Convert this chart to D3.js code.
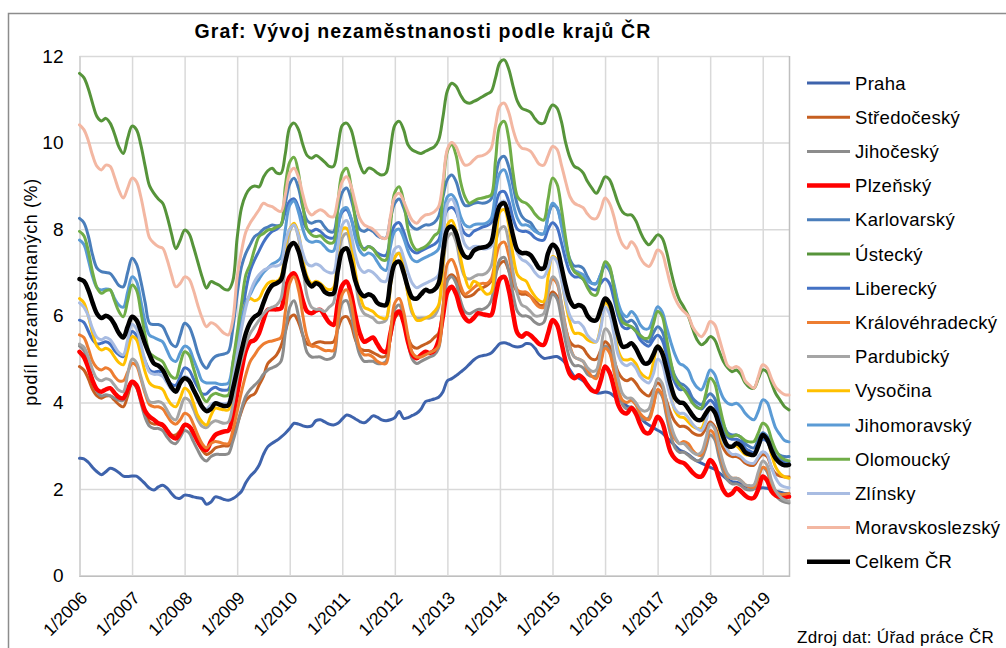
<!DOCTYPE html>
<html>
<head>
<meta charset="utf-8">
<script src="https://cdn.jsdelivr.net/npm/d3@7"></script>
<style>
  body { margin: 0; background: #fff; }
  svg text { font-family: "Liberation Sans", Arial, sans-serif; fill: #000; }
</style>
</head>
<body>
<div id="chart"></div>
<script>
// měsíce 1/2006 ... 7/2019 (kategorie osy x)
const months = [];
for (let r = 2006; r <= 2019; r++) {
  for (let m = 1; m <= 12; m++) {
    if (r === 2019 && m > 7) break;
    months.push(m + "/" + r);
  }
}
const tickLabels = ["1/2006","1/2007","1/2008","1/2009","1/2010","1/2011","1/2012",
                    "1/2013","1/2014","1/2015","1/2016","1/2017","1/2018","1/2019"];
const yTicks = [0, 2, 4, 6, 8, 10, 12];

const seriesNames = ["Praha","Středočeský","Jihočeský","Plzeňský","Karlovarský","Ústecký",
  "Liberecký","Královéhradecký","Pardubický","Vysočina","Jihomoravský","Olomoucký",
  "Zlínsky","Moravskoslezský","Celkem ČR"];

// podíl nezaměstnaných (%), měsíčně
const praha = [
  2.71,2.7,2.62,2.5,2.4,2.33,2.4,2.48,2.45,2.38,2.3,2.29,
  2.3,2.3,2.22,2.12,2.02,1.98,2.05,2.09,2.02,1.9,1.8,1.79,
  1.86,1.85,1.82,1.8,1.78,1.65,1.7,1.82,1.8,1.76,1.74,1.78,
  1.85,1.95,2.15,2.3,2.4,2.55,2.8,2.98,3.06,3.12,3.2,3.29,
  3.4,3.52,3.5,3.46,3.44,3.46,3.58,3.6,3.55,3.5,3.48,3.52,
  3.62,3.71,3.68,3.62,3.56,3.53,3.6,3.69,3.66,3.6,3.58,3.6,
  3.65,3.79,3.63,3.65,3.7,3.75,3.85,4.02,4.05,4.08,4.12,4.25,
  4.5,4.55,4.62,4.7,4.78,4.88,4.98,5.05,5.08,5.1,5.14,5.25,
  5.36,5.38,5.35,5.3,5.28,5.3,5.36,5.35,5.25,5.1,5.02,5.03,
  5.05,5.06,5.0,4.9,4.75,4.6,4.56,4.5,4.4,4.3,4.22,4.22,
  4.24,4.22,4.15,4.08,4.0,3.92,3.87,3.8,3.68,3.55,3.48,3.42,
  3.36,3.3,3.2,3.1,3.0,2.9,2.86,2.8,2.72,2.65,2.6,2.55,
  2.5,2.46,2.38,2.3,2.22,2.17,2.16,2.12,2.07,2.04,2.02,2.02,
  2.03,2.02,1.98,1.95,1.93,1.9,1.9];
const stredocesky = [
  4.83,4.75,4.55,4.3,4.15,4.1,4.15,4.15,4.05,3.95,3.9,4.15,
  4.45,4.35,4.1,3.75,3.55,3.5,3.5,3.45,3.35,3.25,3.25,3.35,
  3.5,3.45,3.3,3.1,2.9,2.8,2.85,2.95,2.98,3.0,3.0,3.2,
  3.5,3.8,4.05,4.15,4.2,4.4,4.6,4.9,5.0,5.1,5.3,5.65,
  5.95,6.02,5.85,5.55,5.35,5.33,5.38,5.4,5.38,5.38,5.4,5.7,
  5.95,5.98,5.8,5.45,5.25,5.2,5.2,5.15,5.1,5.05,5.08,5.5,
  5.95,6.05,5.85,5.5,5.3,5.25,5.3,5.35,5.4,5.5,5.6,6.2,
  6.85,6.95,6.85,6.6,6.45,6.45,6.5,6.6,6.65,6.7,6.8,7.0,
  7.2,7.26,7.05,6.75,6.55,6.5,6.5,6.45,6.35,6.25,6.25,6.4,
  6.55,6.45,6.1,5.7,5.4,5.3,5.3,5.25,5.1,5.0,5.0,5.2,
  5.4,5.3,5.0,4.7,4.55,4.5,4.55,4.45,4.3,4.2,4.15,4.3,
  4.45,4.35,4.05,3.75,3.55,3.45,3.45,3.4,3.3,3.25,3.25,3.4,
  3.55,3.45,3.2,2.95,2.8,2.75,2.75,2.7,2.6,2.55,2.55,2.7,
  2.8,2.75,2.5,2.35,2.3,2.28,2.28];
const jihocesky = [
  5.3,5.2,4.9,4.5,4.25,4.15,4.18,4.15,4.1,4.05,4.05,4.25,
  4.45,4.35,4.0,3.65,3.45,3.4,3.4,3.35,3.2,3.08,3.05,3.2,
  3.35,3.3,3.1,2.9,2.72,2.65,2.75,2.8,2.8,2.8,2.82,3.1,
  3.45,3.85,4.15,4.3,4.4,4.5,4.65,4.75,4.8,4.85,4.95,5.6,
  6.2,6.35,6.0,5.55,5.15,5.05,5.05,5.05,5.0,5.0,5.05,5.75,
  6.3,6.35,6.05,5.5,5.1,4.95,4.95,4.95,4.9,4.9,4.95,5.55,
  6.15,6.25,5.95,5.4,5.0,4.9,4.95,5.0,5.05,5.1,5.25,6.05,
  6.8,6.9,6.75,6.35,6.1,6.05,6.1,6.15,6.15,6.2,6.35,6.9,
  7.3,7.35,7.05,6.5,6.1,6.0,6.0,5.95,5.85,5.8,5.85,6.2,
  6.5,6.4,5.95,5.4,5.0,4.85,4.85,4.8,4.65,4.6,4.62,4.95,
  5.3,5.2,4.75,4.25,3.95,3.85,3.9,3.8,3.65,3.6,3.65,3.95,
  4.25,4.15,3.7,3.25,2.95,2.85,2.85,2.78,2.7,2.65,2.7,2.95,
  3.25,3.15,2.75,2.4,2.2,2.12,2.12,2.08,2.0,1.98,2.0,2.25,
  2.5,2.4,2.05,1.85,1.75,1.7,1.68];
const plzensky = [
  5.17,5.05,4.8,4.5,4.3,4.25,4.3,4.33,4.22,4.12,4.1,4.3,
  4.48,4.4,4.1,3.8,3.67,3.6,3.52,3.48,3.35,3.22,3.17,3.3,
  3.48,3.45,3.3,3.1,2.95,2.9,3.1,3.25,3.3,3.33,3.35,3.67,
  4.2,4.75,5.2,5.4,5.44,5.6,5.9,6.14,6.15,6.15,6.17,6.6,
  6.9,6.98,6.75,6.35,6.1,6.06,6.12,6.14,6.0,5.85,5.79,6.3,
  6.7,6.79,6.5,6.0,5.6,5.4,5.45,5.5,5.35,5.2,5.17,5.6,
  6.0,6.1,5.85,5.4,5.1,5.02,5.1,5.17,5.14,5.2,5.44,6.0,
  6.55,6.67,6.5,6.15,5.95,5.87,5.95,6.06,6.04,6.02,6.02,6.45,
  6.85,6.9,6.6,6.05,5.6,5.52,5.6,5.55,5.45,5.35,5.33,5.6,
  5.9,5.8,5.4,4.95,4.65,4.56,4.63,4.55,4.4,4.28,4.25,4.5,
  4.83,4.7,4.35,3.95,3.78,3.75,3.87,3.75,3.5,3.32,3.29,3.45,
  3.67,3.55,3.2,2.85,2.7,2.63,2.6,2.5,2.38,2.3,2.29,2.45,
  2.67,2.55,2.25,1.98,1.86,1.9,2.02,1.95,1.85,1.79,1.8,2.0,
  2.29,2.2,1.95,1.85,1.82,1.82,1.83];
const karlovarsky = [
  8.25,8.15,7.85,7.4,7.1,7.02,7.0,6.98,6.85,6.7,6.67,7.0,
  7.33,7.2,6.8,6.3,5.83,5.8,5.8,5.75,5.55,5.35,5.29,5.55,
  5.83,5.75,5.5,5.15,4.9,4.79,4.95,5.06,5.1,5.12,5.17,5.7,
  6.5,7.14,7.45,7.65,7.83,7.9,8.0,8.05,8.1,8.08,8.1,8.6,
  9.05,9.18,8.95,8.5,8.2,8.14,8.18,8.18,8.05,7.95,7.94,8.45,
  8.85,8.95,8.7,8.3,8.0,7.95,8.0,7.95,7.85,7.8,7.8,8.25,
  8.6,8.7,8.5,8.2,8.05,8.0,8.05,8.1,8.1,8.15,8.3,8.75,
  9.15,9.25,9.1,8.75,8.55,8.55,8.6,8.62,8.6,8.62,8.7,9.2,
  9.62,9.68,9.45,9.0,8.55,8.3,8.2,8.15,8.0,7.9,7.9,8.3,
  8.55,8.5,8.15,7.7,7.3,7.15,7.15,7.1,6.9,6.75,6.75,6.95,
  7.15,7.05,6.7,6.25,5.95,5.85,5.9,5.8,5.55,5.45,5.4,5.6,
  5.75,5.65,5.3,4.9,4.6,4.45,4.4,4.3,4.1,4.0,3.95,4.1,
  4.2,4.1,3.8,3.5,3.3,3.25,3.25,3.2,3.05,2.98,2.95,3.15,
  3.3,3.22,3.0,2.85,2.78,2.75,2.75];
const ustecky = [
  11.6,11.5,11.25,10.9,10.6,10.5,10.56,10.45,10.2,9.9,9.75,10.1,
  10.38,10.3,9.95,9.45,9.0,8.83,8.7,8.6,8.3,7.9,7.55,7.75,
  7.98,7.9,7.6,7.25,6.9,6.64,6.79,6.75,6.7,6.62,6.6,6.8,
  7.8,8.5,8.8,8.95,9.0,8.98,9.2,9.35,9.41,9.3,9.29,9.75,
  10.35,10.45,10.3,9.95,9.7,9.64,9.7,9.64,9.55,9.45,9.45,9.9,
  10.4,10.45,10.3,9.9,9.5,9.3,9.41,9.38,9.3,9.25,9.3,9.85,
  10.4,10.49,10.3,9.95,9.83,9.78,9.75,9.8,9.85,9.9,10.06,10.6,
  11.2,11.37,11.3,11.1,10.95,10.91,10.95,11.0,11.06,11.12,11.18,11.5,
  11.85,11.91,11.7,11.3,10.95,10.79,10.75,10.7,10.55,10.45,10.45,10.7,
  10.87,10.8,10.5,10.0,9.65,9.45,9.4,9.3,9.1,8.95,8.83,9.0,
  9.21,9.15,8.9,8.6,8.4,8.33,8.33,8.2,7.95,7.75,7.64,7.75,
  7.87,7.8,7.5,7.05,6.65,6.37,6.2,6.0,5.7,5.45,5.33,5.4,
  5.52,5.45,5.2,4.95,4.8,4.71,4.75,4.65,4.45,4.35,4.33,4.55,
  4.75,4.7,4.45,4.2,4.05,3.9,3.83];
const liberecky = [
  5.9,5.85,5.65,5.45,5.35,5.37,5.4,5.35,5.2,5.1,5.06,5.35,
  5.64,5.55,5.25,4.95,4.75,4.7,4.72,4.7,4.55,4.42,4.4,4.6,
  4.8,4.75,4.55,4.35,4.2,4.2,4.3,4.35,4.3,4.28,4.3,4.75,
  5.3,5.9,6.6,7.05,7.3,7.5,7.7,7.85,7.95,8.0,8.1,8.4,
  8.65,8.7,8.5,8.2,8.0,7.95,8.0,7.95,7.85,7.8,7.8,8.1,
  8.4,8.45,8.25,7.9,7.65,7.55,7.6,7.55,7.45,7.4,7.4,7.8,
  8.1,8.15,7.95,7.65,7.5,7.45,7.5,7.55,7.6,7.65,7.75,8.15,
  8.45,8.5,8.4,8.1,7.9,7.85,7.95,8.0,8.05,8.08,8.15,8.55,
  8.85,8.87,8.65,8.25,8.0,7.95,7.95,7.9,7.8,7.75,7.75,8.0,
  8.15,8.05,7.7,7.3,7.0,6.9,6.9,6.85,6.7,6.62,6.6,6.75,
  6.85,6.75,6.4,6.0,5.75,5.7,5.75,5.65,5.45,5.35,5.3,5.45,
  5.55,5.45,5.1,4.7,4.45,4.3,4.3,4.2,4.0,3.9,3.85,3.95,
  4.05,3.95,3.65,3.4,3.2,3.15,3.15,3.1,2.95,2.88,2.85,3.0,
  3.15,3.1,2.9,2.75,2.68,2.63,2.62];
const kralovehradecky = [
  5.56,5.5,5.25,4.95,4.8,4.75,4.8,4.75,4.6,4.5,4.5,4.7,
  4.9,4.85,4.55,4.2,3.95,3.9,3.9,3.85,3.7,3.55,3.5,3.6,
  3.75,3.7,3.5,3.25,3.05,2.95,3.05,3.1,3.08,3.05,3.05,3.35,
  3.8,4.25,4.65,4.95,5.1,5.25,5.35,5.4,5.42,5.45,5.5,6.1,
  6.75,6.9,6.6,6.0,5.5,5.3,5.3,5.25,5.2,5.2,5.2,5.9,
  6.5,6.6,6.3,5.7,5.25,5.1,5.1,5.05,4.95,4.9,4.9,5.6,
  6.3,6.4,6.1,5.55,5.15,5.05,5.05,5.1,5.15,5.2,5.3,6.2,
  7.2,7.3,7.1,6.7,6.5,6.56,6.65,6.72,6.75,6.75,6.85,7.3,
  7.65,7.7,7.4,6.9,6.6,6.55,6.55,6.45,6.3,6.2,6.2,6.55,
  6.85,6.75,6.3,5.75,5.3,5.05,5.0,4.95,4.75,4.6,4.55,4.9,
  5.25,5.15,4.75,4.3,4.05,4.0,4.05,3.95,3.75,3.65,3.6,3.9,
  4.3,4.2,3.8,3.4,3.15,3.05,3.1,3.05,2.9,2.8,2.78,3.05,
  3.35,3.25,2.9,2.55,2.3,2.25,2.25,2.2,2.1,2.05,2.05,2.3,
  2.5,2.45,2.15,1.95,1.88,1.88,1.9];
const pardubicky = [
  5.35,5.28,5.05,4.75,4.55,4.5,4.55,4.52,4.4,4.28,4.25,4.65,
  5.0,4.92,4.6,4.25,4.02,4.0,4.02,3.98,3.82,3.65,3.6,3.85,
  4.1,4.05,3.85,3.6,3.45,3.42,3.52,3.58,3.55,3.52,3.55,3.95,
  4.55,5.0,5.35,5.6,5.75,5.9,6.05,6.15,6.2,6.25,6.4,7.2,
  7.95,8.1,7.8,7.1,6.45,6.2,6.15,6.15,6.1,6.2,6.3,7.2,
  7.8,7.9,7.55,6.8,6.25,6.05,6.0,5.95,5.85,5.85,5.9,6.7,
  7.35,7.45,7.15,6.5,6.05,5.95,5.95,5.95,5.95,6.0,6.2,7.1,
  7.8,7.9,7.7,7.2,6.9,6.85,6.9,6.95,6.95,7.0,7.15,7.7,
  8.0,8.06,7.7,7.0,6.5,6.25,6.2,6.1,6.0,6.0,6.05,6.55,
  6.9,6.8,6.3,5.7,5.25,5.05,5.0,4.95,4.8,4.72,4.75,5.2,
  5.7,5.6,5.1,4.55,4.2,4.1,4.1,4.0,3.85,3.8,3.85,4.2,
  4.55,4.45,4.0,3.5,3.2,3.05,3.05,2.95,2.85,2.8,2.85,3.15,
  3.5,3.4,3.0,2.6,2.35,2.25,2.25,2.2,2.1,2.08,2.1,2.4,
  2.65,2.55,2.2,1.95,1.82,1.75,1.72];
const vysocina = [
  6.4,6.3,6.0,5.6,5.3,5.21,5.25,5.2,5.05,4.92,4.87,5.2,
  5.52,5.45,5.1,4.7,4.45,4.37,4.35,4.3,4.1,3.95,3.9,4.1,
  4.33,4.25,4.0,3.7,3.55,3.48,3.7,3.87,3.85,3.83,3.83,4.5,
  5.3,5.9,6.3,6.4,6.35,6.4,6.6,6.75,6.8,6.8,6.9,7.6,
  8.0,8.14,7.9,7.3,6.9,6.75,6.8,6.75,6.65,6.6,6.65,7.5,
  8.0,8.02,7.7,7.0,6.5,6.2,6.15,6.1,6.0,5.95,5.94,6.7,
  7.35,7.44,7.1,6.5,6.1,5.9,5.9,5.95,6.0,6.1,6.25,7.2,
  8.1,8.2,7.95,7.35,6.9,6.64,6.8,6.75,6.6,6.5,6.55,7.5,
  8.4,8.45,8.1,7.4,6.95,6.85,6.8,6.6,6.45,6.35,6.33,6.9,
  7.37,7.3,6.9,6.3,5.85,5.6,5.6,5.55,5.45,5.4,5.4,5.75,
  6.3,6.2,5.75,5.2,5.0,4.98,5.0,4.9,4.7,4.6,4.56,4.9,
  5.3,5.2,4.7,4.15,3.8,3.67,3.65,3.55,3.45,3.4,3.4,3.65,
  3.87,3.8,3.4,3.05,2.95,2.98,3.0,2.9,2.8,2.78,2.79,3.0,
  3.21,3.15,2.8,2.5,2.35,2.28,2.25];
const jihomoravsky = [
  7.75,7.65,7.3,6.9,6.65,6.6,6.62,6.6,6.4,6.25,6.2,6.55,
  6.9,6.8,6.35,5.85,5.55,5.5,5.45,5.4,5.2,5.0,4.95,5.15,
  5.3,5.25,5.0,4.75,4.5,4.45,4.45,4.45,4.42,4.42,4.45,4.9,
  5.45,5.9,6.3,6.5,6.7,6.85,7.0,7.1,7.2,7.25,7.35,8.0,
  8.55,8.65,8.4,8.0,7.75,7.7,7.72,7.7,7.6,7.5,7.5,8.0,
  8.45,8.5,8.25,7.8,7.5,7.4,7.45,7.4,7.25,7.1,7.05,7.6,
  7.95,8.0,7.8,7.5,7.3,7.25,7.3,7.35,7.4,7.45,7.55,8.2,
  8.75,8.8,8.65,8.3,8.1,8.05,8.1,8.12,8.12,8.15,8.25,8.85,
  9.3,9.37,9.1,8.6,8.25,8.1,8.1,8.05,7.95,7.9,7.9,8.3,
  8.6,8.5,8.1,7.6,7.2,7.05,7.0,6.95,6.8,6.75,6.75,6.95,
  7.21,7.1,6.75,6.3,6.05,5.98,6.1,6.0,5.8,5.7,5.71,5.95,
  6.21,6.1,5.75,5.4,5.1,4.9,4.85,4.75,4.5,4.35,4.29,4.5,
  4.75,4.65,4.35,4.1,3.98,3.95,3.98,3.9,3.75,3.65,3.6,3.8,
  4.06,4.0,3.7,3.4,3.25,3.12,3.09];
const olomoucky = [
  7.95,7.85,7.5,7.0,6.65,6.52,6.58,6.6,6.35,6.1,5.98,6.35,
  6.71,6.6,6.1,5.55,5.15,5.06,5.0,4.94,4.75,4.6,4.56,4.9,
  5.17,5.1,4.8,4.45,4.15,4.02,4.15,4.21,4.18,4.15,4.17,4.9,
  5.6,6.29,6.95,7.2,7.55,7.83,7.9,7.98,8.0,8.05,8.1,9.0,
  9.55,9.66,9.3,8.55,8.0,7.87,7.83,7.85,7.75,7.68,7.7,8.6,
  9.3,9.41,9.0,8.2,7.7,7.52,7.6,7.55,7.4,7.3,7.29,8.1,
  8.85,8.98,8.65,8.0,7.65,7.52,7.55,7.6,7.7,7.85,7.94,8.9,
  9.8,9.95,9.7,9.1,8.75,8.6,8.65,8.7,8.72,8.75,8.79,9.6,
  10.4,10.49,10.1,9.3,8.75,8.64,8.6,8.5,8.35,8.25,8.21,8.7,
  9.18,9.05,8.5,7.8,7.25,7.02,6.95,6.85,6.65,6.5,6.48,6.85,
  7.25,7.15,6.65,6.1,5.85,5.79,5.75,5.65,5.55,5.48,5.5,5.8,
  6.1,6.0,5.5,4.95,4.55,4.4,4.3,4.15,3.98,3.88,3.87,4.2,
  4.56,4.45,4.0,3.55,3.25,3.21,3.25,3.2,3.12,3.09,3.1,3.3,
  3.52,3.45,3.15,2.9,2.75,2.68,2.65];
const zlinsky = [
  6.3,6.2,6.0,5.7,5.5,5.45,5.5,5.45,5.3,5.15,5.1,5.45,
  5.8,5.7,5.35,4.95,4.7,4.65,4.65,4.6,4.45,4.3,4.25,4.45,
  4.6,4.55,4.3,4.05,3.9,3.85,3.95,4.0,3.98,3.97,4.0,4.5,
  5.1,5.7,6.2,6.55,6.8,6.95,7.05,7.1,7.15,7.15,7.2,7.7,
  8.0,8.1,7.85,7.45,7.2,7.15,7.2,7.15,7.05,7.0,7.0,7.6,
  8.1,8.2,7.9,7.4,7.1,7.0,7.05,7.0,6.9,6.8,6.8,7.2,
  7.55,7.6,7.35,7.0,6.75,6.65,6.7,6.75,6.8,6.85,6.95,7.7,
  8.6,8.7,8.5,8.0,7.65,7.55,7.6,7.6,7.55,7.55,7.6,8.1,
  8.6,8.65,8.35,7.8,7.45,7.3,7.25,7.15,7.0,6.9,6.9,7.1,
  7.35,7.25,6.85,6.35,6.0,5.85,5.85,5.75,5.55,5.45,5.4,5.7,
  6.2,6.05,5.6,5.1,4.9,4.85,4.9,4.8,4.6,4.5,4.45,4.65,
  5.0,4.9,4.5,4.1,3.85,3.75,3.75,3.65,3.5,3.4,3.35,3.55,
  3.9,3.8,3.45,3.1,2.9,2.8,2.8,2.75,2.65,2.6,2.6,2.75,
  2.86,2.8,2.5,2.25,2.1,2.05,2.03];
const moravskoslezsky = [
  10.41,10.3,10.05,9.7,9.45,9.37,9.48,9.45,9.2,8.9,8.72,8.95,
  9.18,9.1,8.75,8.25,7.8,7.68,7.6,7.56,7.3,6.95,6.67,6.75,
  6.9,6.85,6.6,6.25,5.95,5.75,5.84,5.8,5.7,5.6,5.56,5.9,
  6.9,7.5,7.94,8.15,8.3,8.45,8.6,8.55,8.52,8.45,8.41,8.8,
  9.3,9.41,9.2,8.8,8.45,8.33,8.4,8.45,8.4,8.3,8.29,8.7,
  9.1,9.21,9.0,8.6,8.25,8.1,8.05,8.0,7.9,7.8,7.79,8.3,
  8.75,8.83,8.65,8.4,8.2,8.14,8.25,8.33,8.35,8.4,8.52,9.1,
  9.85,10.0,9.9,9.65,9.48,9.5,9.6,9.68,9.7,9.75,9.87,10.4,
  10.85,10.91,10.7,10.3,10.0,9.87,9.85,9.8,9.65,9.5,9.48,9.7,
  9.91,9.85,9.5,9.1,8.75,8.6,8.55,8.5,8.35,8.25,8.25,8.45,
  8.72,8.6,8.3,7.9,7.65,7.56,7.71,7.6,7.35,7.2,7.14,7.3,
  7.52,7.45,7.1,6.7,6.4,6.21,6.1,6.0,5.75,5.6,5.52,5.65,
  5.87,5.8,5.5,5.15,4.85,4.79,4.83,4.75,4.5,4.4,4.33,4.6,
  4.87,4.8,4.55,4.35,4.25,4.18,4.17];
const celkem = [
  6.85,6.8,6.6,6.3,6.05,5.95,6.0,5.95,5.8,5.6,5.5,5.75,
  5.98,5.9,5.65,5.35,5.1,4.9,4.85,4.75,4.55,4.35,4.25,4.45,
  4.56,4.5,4.3,4.1,3.9,3.8,3.85,3.98,3.95,3.92,3.94,4.3,
  4.75,5.2,5.6,5.85,5.98,6.05,6.3,6.55,6.7,6.75,6.83,7.25,
  7.6,7.68,7.5,7.1,6.8,6.68,6.75,6.7,6.55,6.5,6.52,7.05,
  7.5,7.56,7.25,6.8,6.55,6.45,6.5,6.45,6.3,6.25,6.25,6.8,
  7.2,7.25,7.0,6.65,6.42,6.4,6.5,6.6,6.56,6.6,6.75,7.45,
  8.0,8.06,7.9,7.55,7.37,7.35,7.5,7.56,7.58,7.6,7.7,8.2,
  8.55,8.6,8.3,7.85,7.52,7.45,7.45,7.4,7.25,7.1,7.1,7.45,
  7.64,7.55,7.15,6.7,6.35,6.21,6.25,6.2,6.0,5.9,5.9,6.15,
  6.4,6.3,5.95,5.55,5.29,5.3,5.37,5.25,5.05,4.9,4.92,5.1,
  5.29,5.15,4.8,4.4,4.1,4.0,3.98,3.85,3.7,3.6,3.6,3.75,
  3.87,3.78,3.5,3.2,3.0,2.98,3.06,3.0,2.85,2.8,2.79,3.0,
  3.25,3.15,2.9,2.7,2.6,2.55,2.56];

const seriesValues = [praha, stredocesky, jihocesky, plzensky, karlovarsky, ustecky,
  liberecky, kralovehradecky, pardubicky, vysocina, jihomoravsky, olomoucky,
  zlinsky, moravskoslezsky, celkem];

// vzhled řad
const colors = ["#3E63AC","#C65F21","#8C8C8C","#FF0000","#4A7EBB","#56943A",
  "#4472C4","#ED7D31","#A5A5A5","#FFC000","#5B9BD5","#70AD47",
  "#A8BCE2","#F3B7A2","#000000"];
const widths = [3,3,3,4.5,3,3,3,3,3,3,3,3,3,3,4.5];

seriesValues.forEach(function(v, i) {
  if (v.length !== months.length) {
    throw new Error(seriesNames[i] + ": " + v.length + " != " + months.length);
  }
});

const width = 1006, height = 648;
const margin = {left: 79.5, top: 56, right: 217, bottom: 72.3};

const svg = d3.select("#chart").append("svg")
  .attr("width", width)
  .attr("height", height);

// rámeček grafu
svg.append("rect")
  .attr("x", 8.5).attr("y", 13.5)
  .attr("width", 1010).attr("height", 650)
  .attr("fill", "#fff")
  .attr("stroke", "#8C8C8C")
  .attr("stroke-width", 1.5);

const xScale = d3.scaleLinear()
  .domain([0, months.length - 1])
  .range([margin.left, width - margin.right]);
const yScale = d3.scaleLinear()
  .domain([0, 12])
  .range([height - margin.bottom, margin.top]);

const plotW = xScale.range()[1] - xScale.range()[0];
const plotH = yScale.range()[0] - yScale.range()[1];

// osa y + vodorovná mřížka
const yAxis = svg.append("g")
  .attr("transform", `translate(${margin.left},0)`)
  .call(d3.axisLeft(yScale).tickValues(yTicks).tickSize(-plotW).tickPadding(16));
yAxis.select(".domain").remove();
yAxis.selectAll("line").attr("stroke", "#D9D9D9").attr("stroke-width", 1.5);
yAxis.selectAll("text").style("font-size", "19px");

// osa x + svislá mřížka
const xAxis = svg.append("g")
  .attr("transform", `translate(0,${yScale(0)})`)
  .call(d3.axisBottom(xScale)
    .tickValues(tickLabels.map((d, i) => i * 12))
    .tickFormat((d, i) => tickLabels[i])
    .tickSize(-plotH));
xAxis.select(".domain").attr("stroke", "#BFBFBF").attr("stroke-width", 1.5);
xAxis.selectAll("line").attr("stroke", "#D9D9D9").attr("stroke-width", 1.5);
xAxis.selectAll("text")
  .style("font-size", "17.5px")
  .attr("text-anchor", "end")
  .attr("x", 0).attr("y", 0).attr("dy", "0.35em")
  .attr("transform", "translate(4,19) rotate(-45)");

// čáry
const line = d3.line()
  .x((d, i) => xScale(i))
  .y(d => yScale(d))
  .curve(d3.curveCatmullRom.alpha(0.5));

svg.append("g").selectAll("path")
  .data(seriesValues)
  .enter()
  .append("path")
  .attr("d", d => line(d))
  .attr("fill", "none")
  .attr("stroke", (d, i) => colors[i])
  .attr("stroke-width", (d, i) => widths[i])
  .attr("stroke-linejoin", "round")
  .attr("stroke-linecap", "round");

// titulek
svg.append("text")
  .attr("x", 423).attr("y", 38)
  .attr("text-anchor", "middle")
  .style("font-size", "19.5px")
  .style("font-weight", "bold")
  .style("letter-spacing", "1.1px")
  .text("Graf: Vývoj nezaměstnanosti podle krajů ČR");

// popisek osy y
svg.append("text")
  .attr("transform", "translate(37,292) rotate(-90)")
  .attr("text-anchor", "middle")
  .style("font-size", "18px")
  .style("letter-spacing", "0.6px")
  .text("podíl nezaměstnaných (%)");

// legenda
const legend = svg.append("g").attr("transform", "translate(807,83)");
const item = legend.selectAll("g")
  .data(seriesNames)
  .enter()
  .append("g")
  .attr("transform", (d, i) => `translate(0,${i * 34.2})`);
item.append("line")
  .attr("x1", 0).attr("x2", 43)
  .attr("stroke", (d, i) => colors[i])
  .attr("stroke-width", (d, i) => widths[i]);
item.append("text")
  .attr("x", 48).attr("dy", "0.36em")
  .style("font-size", "18.5px")
  .style("letter-spacing", "0.3px")
  .text(d => d);

// zdroj
svg.append("text")
  .attr("x", 797).attr("y", 643)
  .style("font-size", "17px")
  .style("letter-spacing", "0.3px")
  .text("Zdroj dat: Úřad práce ČR");
</script>
</body>
</html>
